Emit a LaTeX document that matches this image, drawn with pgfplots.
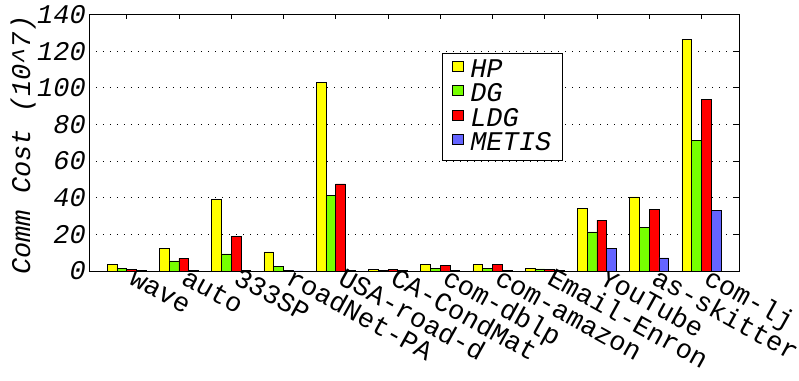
\documentclass[border=0pt]{standalone}
\usepackage{pgfplots}
\pgfplotsset{compat=1.18}
\usepackage{fontspec}
\setmainfont{Liberation Mono}
\definecolor{cHP}{RGB}{255,255,0}
\definecolor{cDG}{RGB}{118,255,0}
\definecolor{cLDG}{RGB}{255,0,0}
\definecolor{cMET}{RGB}{100,100,255}
\newcommand{\bigf}{\fontsize{27bp}{32bp}\selectfont}
\begin{document}
\bigf
\begin{tikzpicture}
\begin{axis}[
 scale only axis, width=650bp, height=256.5bp,
 at={(0,0)}, anchor=south west,
 xmin=-0.72, xmax=11.72, ymin=0, ymax=140,
 xtick={0,...,11},
 xticklabels={wave,auto,333SP,roadNet-PA,USA-road-d,CA-CondMat,com-dblp,com-amazon,Email-Enron,YouTube,as-skitter,com-lj},
 ytick={0,20,...,140},
 xtick pos=upper, ytick pos=upper,
 xticklabel pos=lower, yticklabel pos=lower,
 tick align=inside, major tick length=5bp,
 tick style={black, line width=0.6bp},
 axis line style={black, line width=0.8bp},
 ymajorgrids, grid style={black, line width=0.7bp, dash pattern=on 1.2bp off 5.8bp},
 xticklabel style={xshift=1bp, yshift=-12bp, rotate=-29, anchor=base west, inner sep=0pt, font=\bigf},
 yticklabel style={font=\bigf\itshape, inner sep=3bp},
 /pgf/number format/assume math mode=true,
 ylabel={Comm Cost (10\textasciicircum7)},
 every axis y label/.style={at={(axis description cs:-0.1015,0.49)}, rotate=90, anchor=center, font=\bigf\itshape},
 legend style={at={(0.5426,0.850)}, anchor=north west, draw=black, line width=0.6bp,
   font=\bigf\itshape, cells={anchor=west}, row sep=2.5bp, column sep=6bp, inner xsep=10bp, inner ysep=6bp,
   nodes={inner sep=1bp, text height=17bp, text depth=3bp}},
 legend image code/.code={\draw[#1, line width=0.6bp] (0bp,-1bp) rectangle (10.7bp,9bp);},
]
\addplot[ybar, bar width=0.187, bar shift=-0.2805, fill=cHP, draw=black, line width=0.6bp]
 coordinates {(0,3.6) (1,12.2) (2,39.1) (3,10.4) (4,102.9) (5,0.9) (6,3.8) (7,3.5) (8,1.5) (9,34.2) (10,40.4) (11,126.5)};
\addplot[ybar, bar width=0.187, bar shift=-0.0935, fill=cDG, draw=black, line width=0.6bp]
 coordinates {(0,1.5) (1,5.5) (2,9.3) (3,2.7) (4,41.3) (5,0.3) (6,1.3) (7,1.3) (8,1.1) (9,21.3) (10,23.6) (11,71.3)};
\addplot[ybar, bar width=0.187, bar shift=0.0935, fill=cLDG, draw=black, line width=0.6bp]
 coordinates {(0,0.9) (1,6.9) (2,19.1) (3,0.3) (4,47.5) (5,0.7) (6,3.1) (7,3.4) (8,1.0) (9,27.8) (10,33.8) (11,93.6)};
\addplot[ybar, bar width=0.187, bar shift=0.2805, fill=cMET, draw=black, line width=0.6bp]
 coordinates {(0,0.3) (1,0.3) (2,0.2) (3,0.1) (4,0.3) (5,0.2) (6,0.5) (7,0.2) (8,0.3) (9,12.5) (10,7.1) (11,32.9)};
\legend{HP,DG,LDG,METIS}
\end{axis}
\pgfresetboundingbox
\path[use as bounding box] (-89bp,-110bp) rectangle (710bp,271bp);
\end{tikzpicture}
\end{document}
